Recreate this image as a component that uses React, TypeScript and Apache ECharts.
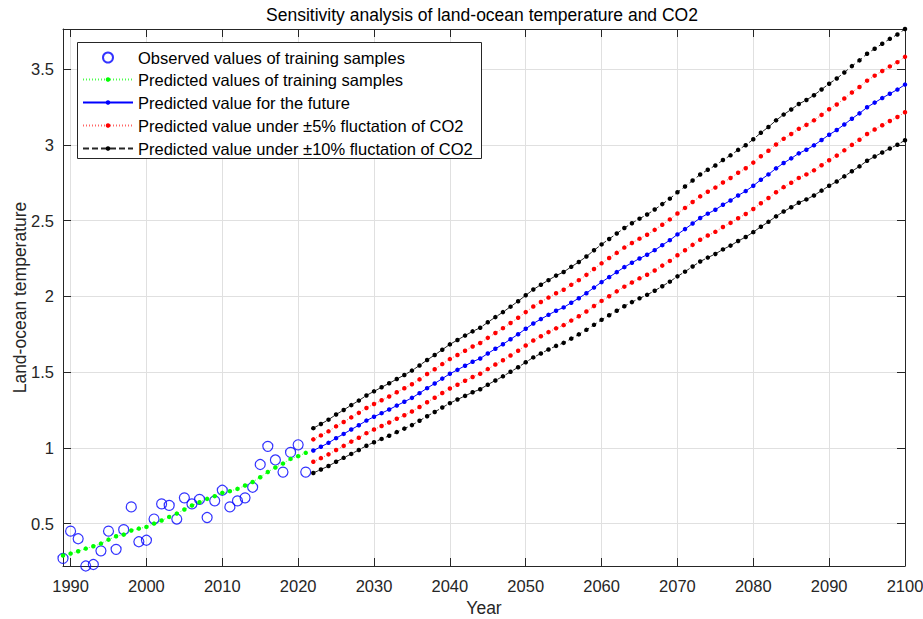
import React, { useEffect, useRef } from "react";
import * as echarts from "echarts";

// Training period (annual values) and projection period
const trainStartYear = 1989;
const futureStartYear = 2022;

// Observed land-ocean temperature anomalies, 1989-2021
const observed = [
  0.27, 0.45, 0.4, 0.22, 0.23, 0.32, 0.45, 0.33, 0.46, 0.61, 0.38, 0.39, 0.53,
  0.63, 0.62, 0.53, 0.67, 0.63, 0.66, 0.54, 0.65, 0.72, 0.61, 0.65, 0.67, 0.74,
  0.89, 1.01, 0.92, 0.84, 0.97, 1.02, 0.84,
];

// Model output over the training period, 1989-2021
const fittedTrain = [
  0.289, 0.302, 0.317, 0.335, 0.35, 0.368, 0.394, 0.416, 0.427, 0.454, 0.467,
  0.478, 0.5, 0.52, 0.544, 0.566, 0.593, 0.619, 0.641, 0.663, 0.681, 0.703,
  0.714, 0.729, 0.751, 0.775, 0.806, 0.841, 0.87, 0.896, 0.927, 0.945, 0.967,
];

// Projection, 2022-2100
const futureCentral = [
  0.982, 1.007, 1.033, 1.064, 1.092, 1.121, 1.149, 1.18, 1.205, 1.229, 1.253,
  1.279, 1.304, 1.33, 1.361, 1.394, 1.425, 1.457, 1.489, 1.515, 1.542, 1.568,
  1.59, 1.623, 1.654, 1.684, 1.717, 1.75, 1.786, 1.821, 1.85, 1.878, 1.905,
  1.927, 1.958, 1.988, 2.021, 2.058, 2.094, 2.127, 2.16, 2.193, 2.222, 2.25,
  2.275, 2.305, 2.338, 2.371, 2.409, 2.444, 2.481, 2.517, 2.546, 2.572, 2.605,
  2.633, 2.666, 2.695, 2.73, 2.77, 2.805, 2.845, 2.88, 2.911, 2.944, 2.968,
  2.997, 3.032, 3.067, 3.098, 3.135, 3.173, 3.208, 3.248, 3.279, 3.309, 3.338,
  3.365, 3.398,
];

const futurePlus5 = [
  1.056, 1.082, 1.109, 1.142, 1.171, 1.201, 1.231, 1.263, 1.289, 1.314, 1.339,
  1.367, 1.393, 1.42, 1.452, 1.487, 1.519, 1.553, 1.586, 1.613, 1.641, 1.669,
  1.692, 1.726, 1.758, 1.79, 1.824, 1.859, 1.896, 1.933, 1.963, 1.992, 2.021,
  2.044, 2.076, 2.107, 2.142, 2.181, 2.218, 2.253, 2.287, 2.322, 2.352, 2.381,
  2.407, 2.439, 2.473, 2.508, 2.547, 2.584, 2.623, 2.66, 2.691, 2.718, 2.752,
  2.781, 2.816, 2.846, 2.883, 2.925, 2.961, 3.003, 3.04, 3.072, 3.106, 3.132,
  3.162, 3.198, 3.235, 3.267, 3.306, 3.346, 3.382, 3.424, 3.457, 3.488, 3.518,
  3.546, 3.581,
];

const futureMinus5 = [
  0.908, 0.932, 0.957, 0.986, 1.013, 1.041, 1.067, 1.097, 1.121, 1.144, 1.167,
  1.192, 1.215, 1.24, 1.27, 1.301, 1.331, 1.362, 1.392, 1.417, 1.443, 1.468,
  1.489, 1.52, 1.55, 1.578, 1.61, 1.641, 1.676, 1.709, 1.737, 1.764, 1.789,
  1.81, 1.84, 1.869, 1.9, 1.936, 1.97, 2.001, 2.033, 2.064, 2.092, 2.119,
  2.143, 2.171, 2.203, 2.234, 2.271, 2.304, 2.34, 2.374, 2.402, 2.426, 2.458,
  2.485, 2.516, 2.544, 2.577, 2.615, 2.649, 2.687, 2.721, 2.75, 2.782, 2.805,
  2.832, 2.866, 2.899, 2.929, 2.964, 3.0, 3.034, 3.072, 3.102, 3.13, 3.158,
  3.184, 3.215,
];

const futurePlus10 = [
  1.13, 1.157, 1.186, 1.22, 1.25, 1.282, 1.312, 1.346, 1.373, 1.4, 1.426,
  1.454, 1.481, 1.51, 1.544, 1.58, 1.613, 1.648, 1.683, 1.712, 1.741, 1.769,
  1.793, 1.829, 1.863, 1.896, 1.932, 1.968, 2.007, 2.045, 2.077, 2.107, 2.137,
  2.161, 2.195, 2.227, 2.263, 2.304, 2.343, 2.379, 2.415, 2.451, 2.483, 2.513,
  2.54, 2.573, 2.609, 2.645, 2.687, 2.725, 2.765, 2.804, 2.836, 2.864, 2.9,
  2.931, 2.967, 2.998, 3.037, 3.08, 3.118, 3.162, 3.2, 3.234, 3.27, 3.296,
  3.328, 3.366, 3.404, 3.438, 3.478, 3.52, 3.558, 3.602, 3.635, 3.668, 3.7,
  3.729, 3.765,
];

const futureMinus10 = [
  0.834, 0.857, 0.88, 0.908, 0.934, 0.96, 0.986, 1.014, 1.037, 1.059, 1.08,
  1.104, 1.127, 1.15, 1.179, 1.209, 1.237, 1.266, 1.295, 1.319, 1.343, 1.367,
  1.387, 1.417, 1.445, 1.472, 1.502, 1.532, 1.565, 1.597, 1.623, 1.649, 1.673,
  1.693, 1.721, 1.749, 1.779, 1.812, 1.845, 1.875, 1.905, 1.935, 1.962, 1.987,
  2.01, 2.037, 2.067, 2.097, 2.132, 2.163, 2.197, 2.23, 2.256, 2.28, 2.31,
  2.335, 2.365, 2.392, 2.424, 2.46, 2.492, 2.528, 2.56, 2.588, 2.618, 2.64,
  2.666, 2.698, 2.73, 2.758, 2.792, 2.826, 2.858, 2.895, 2.923, 2.95, 2.976,
  3.001, 3.031,
];

// Axis ranges and tick positions
const yearMin = 1989;
const yearMax = 2100;
const tempMin = 0.22;
const tempMax = 3.765;
const yearTicks = [1990, 2000, 2010, 2020, 2030, 2040, 2050, 2060, 2070, 2080, 2090, 2100];
const tempTicks = [0.5, 1, 1.5, 2, 2.5, 3, 3.5];

const NAME_OBS = "Observed values of training samples";
const NAME_FIT = "Predicted values of training samples";
const NAME_FUT = "Predicted value for the future";
const NAME_5 = "Predicted value under \u00b15% fluctation of CO2";
const NAME_10 = "Predicted value under \u00b110% fluctation of CO2";

const FONT = "'Liberation Sans', Arial, Helvetica, sans-serif";
const AXIS_COLOR = "#262626";
const GRID_COLOR = "#e0e0e0";

const toPairs = (start: number, values: number[]) =>
  values.map((v, i) => [start + i, v]);

function buildOption(): echarts.EChartsCoreOption {
  const frameAxis = {
    type: "value",
    axisLine: { show: true, onZero: false, lineStyle: { color: AXIS_COLOR, width: 1 } },
    axisTick: { show: true, inside: true, length: 8, lineStyle: { color: AXIS_COLOR, width: 1 } },
  };

  const dotLine = (
    name: string,
    values: number[],
    color: string,
    type: any,
    opacity: number
  ) => ({
    name,
    type: "line",
    data: toPairs(futureStartYear, values),
    symbol: "circle",
    symbolSize: 4.5,
    showSymbol: true,
    lineStyle: { color, width: 1, type, opacity },
    itemStyle: { color },
    emphasis: { disabled: true },
    z: 3,
  });

  const legendText = { fontSize: 16.5, lineHeight: 16, color: "#000", fontFamily: FONT };

  return {
    animation: false,
    backgroundColor: "#ffffff",
    textStyle: { fontFamily: FONT },
    grid: {
      left: 63,
      right: 18,
      top: 29,
      bottom: 53,
      containLabel: false,
      outerBoundsMode: "none",
    },
    xAxis: [
      {
        ...frameAxis,
        min: yearMin,
        max: yearMax,
        position: "bottom",
        name: "Year",
        nameLocation: "middle",
        nameGap: 33,
        nameMoveOverlap: false,
        nameTextStyle: { fontSize: 17.5, color: AXIS_COLOR, fontFamily: FONT },
        axisTick: { ...frameAxis.axisTick, customValues: yearTicks },
        axisLabel: {
          customValues: yearTicks,
          formatter: (v: number) => String(v),
          margin: 11,
          fontSize: 16.5,
          color: AXIS_COLOR,
          fontFamily: FONT,
        },
        splitLine: { show: true, lineStyle: { color: GRID_COLOR, width: 1 } },
      },
      {
        ...frameAxis,
        min: yearMin,
        max: yearMax,
        position: "top",
        axisTick: { ...frameAxis.axisTick, customValues: yearTicks },
        axisLabel: { show: false },
        splitLine: { show: false },
      },
    ],
    yAxis: [
      {
        ...frameAxis,
        min: tempMin,
        max: tempMax,
        position: "left",
        name: "Land-ocean temperature",
        nameLocation: "middle",
        nameGap: 34,
        nameMoveOverlap: false,
        nameTextStyle: { fontSize: 17.5, color: AXIS_COLOR, fontFamily: FONT },
        axisTick: { ...frameAxis.axisTick, customValues: tempTicks },
        axisLabel: {
          customValues: tempTicks,
          formatter: (v: number) => String(v),
          margin: 9,
          fontSize: 16.5,
          color: AXIS_COLOR,
          fontFamily: FONT,
        },
        splitLine: { show: true, lineStyle: { color: GRID_COLOR, width: 1 } },
      },
      {
        ...frameAxis,
        min: tempMin,
        max: tempMax,
        position: "right",
        axisTick: { ...frameAxis.axisTick, customValues: tempTicks },
        axisLabel: { show: false },
        splitLine: { show: false },
      },
    ],
    legend: [
      {
        data: [NAME_OBS],
        left: 102,
        top: 49,
        padding: 0,
        itemWidth: 10,
        itemHeight: 10,
        selectedMode: false,
        textStyle: { ...legendText, padding: [0, 0, 0, 20] },
        z: 5,
      },
      {
        data: [NAME_FIT, NAME_FUT, NAME_5, NAME_10],
        orient: "vertical",
        left: 82,
        top: 71,
        padding: 0,
        itemGap: 6,
        itemWidth: 50,
        itemHeight: 5.6,
        selectedMode: false,
        textStyle: legendText,
        z: 5,
      },
    ],
    graphic: [
      {
        type: "text",
        x: 482,
        y: 6,
        z: 5,
        style: {
          text: "Sensitivity analysis of land-ocean temperature and CO2",
          align: "center",
          verticalAlign: "top",
          fontSize: 17.5,
          fontFamily: FONT,
          fill: "#000",
        },
      },
      {
        type: "rect",
        z: 3,
        shape: { x: 77.5, y: 42.5, width: 404, height: 116 },
        style: { fill: "#ffffff", stroke: AXIS_COLOR, lineWidth: 1 },
      },
    ],
    series: [
      {
        name: NAME_OBS,
        type: "scatter",
        data: toPairs(trainStartYear, observed),
        symbol: "circle",
        symbolSize: 10,
        itemStyle: { color: "rgba(255,255,255,0)", borderColor: "#0000ff", borderWidth: 1.2 },
        emphasis: { disabled: true },
        z: 2,
      },
      {
        name: NAME_FIT,
        type: "line",
        data: toPairs(trainStartYear, fittedTrain),
        symbol: "circle",
        symbolSize: 4.5,
        showSymbol: true,
        lineStyle: { color: "#00ff00", width: 1, type: [1, 2], opacity: 0.7 },
        itemStyle: { color: "#00ff00" },
        emphasis: { disabled: true },
        z: 3,
      },
      dotLine(NAME_FUT, futureCentral, "#0000ff", "solid", 1),
      dotLine(NAME_5, futurePlus5, "#ff0000", [1, 2], 0.6),
      dotLine(NAME_5, futureMinus5, "#ff0000", [1, 2], 0.6),
      dotLine(NAME_10, futurePlus10, "#000000", [6, 3], 0.85),
      dotLine(NAME_10, futureMinus10, "#000000", [6, 3], 0.85),
    ],
  };
}

export default function App() {
  const ref = useRef<HTMLDivElement>(null);

  useEffect(() => {
    if (!ref.current) return;
    const chart = echarts.init(ref.current, undefined, { renderer: "svg" });
    chart.setOption(buildOption());
    return () => chart.dispose();
  }, []);

  return (
    <div
      ref={ref}
      style={{ position: "fixed", left: 0, top: 0, width: 923, height: 619, background: "#fff" }}
    />
  );
}
